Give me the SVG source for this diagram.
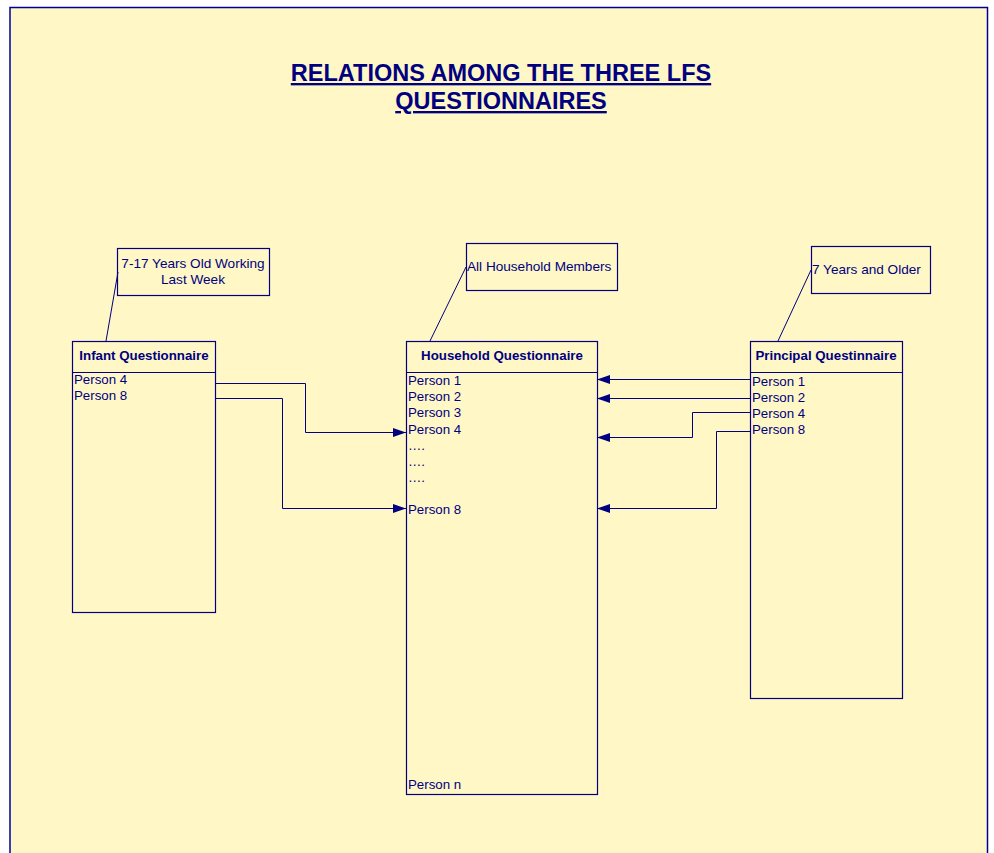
<svg xmlns="http://www.w3.org/2000/svg" width="994" height="853" viewBox="0 0 994 853">
<defs>
<style>
.box{fill:none;stroke:#000080;stroke-width:1.2}
.ln{fill:none;stroke:#000080;stroke-width:1}
.t{font-family:"Liberation Sans",Arial,sans-serif;font-size:13.3px;fill:#000080}
.n{font-family:"Liberation Sans",Arial,sans-serif;font-size:13.6px;fill:#000080}
.h{font-family:"Liberation Sans",Arial,sans-serif;font-size:13.3px;font-weight:bold;fill:#000080;text-anchor:middle}
.title{font-family:"Liberation Sans",Arial,sans-serif;font-size:23.5px;font-weight:bold;fill:#000080;text-anchor:middle;text-decoration:underline}
</style>
<marker id="arr" markerWidth="14" markerHeight="10" refX="13" refY="4.5" orient="auto" markerUnits="userSpaceOnUse">
<path d="M0,0 L13,4.5 L0,9 Z" fill="#000080"/>
</marker>
</defs>
<rect x="0" y="0" width="994" height="853" fill="#ffffff"/>
<rect x="10" y="7.5" width="977.5" height="850" fill="#FFF7C6" stroke="#000099" stroke-width="1.5"/>
<text class="title" x="501" y="81">RELATIONS AMONG THE THREE LFS</text>
<text class="title" x="501" y="109">QUESTIONNAIRES</text>

<g id="infant-note">
<rect class="box" x="117.5" y="248.5" width="152" height="47"/>
<text class="n" x="193" y="268" text-anchor="middle">7-17 Years Old Working</text>
<text class="n" x="193" y="284" text-anchor="middle">Last Week</text>
</g>
<g id="household-note">
<rect class="box" x="466.5" y="243.5" width="151" height="47"/>
<text class="n" x="467" y="271">All Household Members</text>
</g>
<g id="principal-note">
<rect class="box" x="811.5" y="246.5" width="119" height="47"/>
<text class="n" x="812" y="274">7 Years and Older</text>
</g>

<g id="infant">
<rect class="box" x="72.5" y="341.5" width="143" height="271"/>
<line class="box" x1="72.5" y1="372.5" x2="215.5" y2="372.5"/>
<text class="h" x="144" y="360">Infant Questionnaire</text>
<text class="t" x="74" y="384">Person 4</text>
<text class="t" x="74" y="400">Person 8</text>
</g>
<g id="household">
<rect class="box" x="406.5" y="341.5" width="191" height="453"/>
<line class="box" x1="406.5" y1="372.5" x2="597.5" y2="372.5"/>
<text class="h" x="502" y="360">Household Questionnaire</text>
<text class="t" x="408" y="385">Person 1</text>
<text class="t" x="408" y="401">Person 2</text>
<text class="t" x="408" y="417">Person 3</text>
<text class="t" x="408" y="434">Person 4</text>
<text class="t" x="408" y="450">….</text>
<text class="t" x="408" y="466">….</text>
<text class="t" x="408" y="482">….</text>
<text class="t" x="408" y="514">Person 8</text>
<text class="t" x="408" y="789">Person n</text>
</g>
<g id="principal">
<rect class="box" x="750.5" y="341.5" width="152" height="357"/>
<line class="box" x1="750.5" y1="372.5" x2="902.5" y2="372.5"/>
<text class="h" x="826" y="360">Principal Questinnaire</text>
<text class="t" x="752" y="386">Person 1</text>
<text class="t" x="752" y="402">Person 2</text>
<text class="t" x="752" y="418">Person 4</text>
<text class="t" x="752" y="434">Person 8</text>
</g>

<g id="connectors">
<line class="ln" x1="106" y1="341" x2="118" y2="272"/>
<line class="ln" x1="430" y1="341" x2="466" y2="267"/>
<line class="ln" x1="778" y1="341" x2="811" y2="270"/>
<polyline class="ln" points="215.5,383.5 305.5,383.5 305.5,432.5 406,432.5" marker-end="url(#arr)"/>
<polyline class="ln" points="215.5,398.5 282.5,398.5 282.5,508.5 406,508.5" marker-end="url(#arr)"/>
<polyline class="ln" points="750,379.5 597,379.5" marker-end="url(#arr)"/>
<polyline class="ln" points="750,398.5 597,398.5" marker-end="url(#arr)"/>
<polyline class="ln" points="750,412.5 692.5,412.5 692.5,437.5 597,437.5" marker-end="url(#arr)"/>
<polyline class="ln" points="750,431.5 716.5,431.5 716.5,508.5 597,508.5" marker-end="url(#arr)"/>
</g>
</svg>
